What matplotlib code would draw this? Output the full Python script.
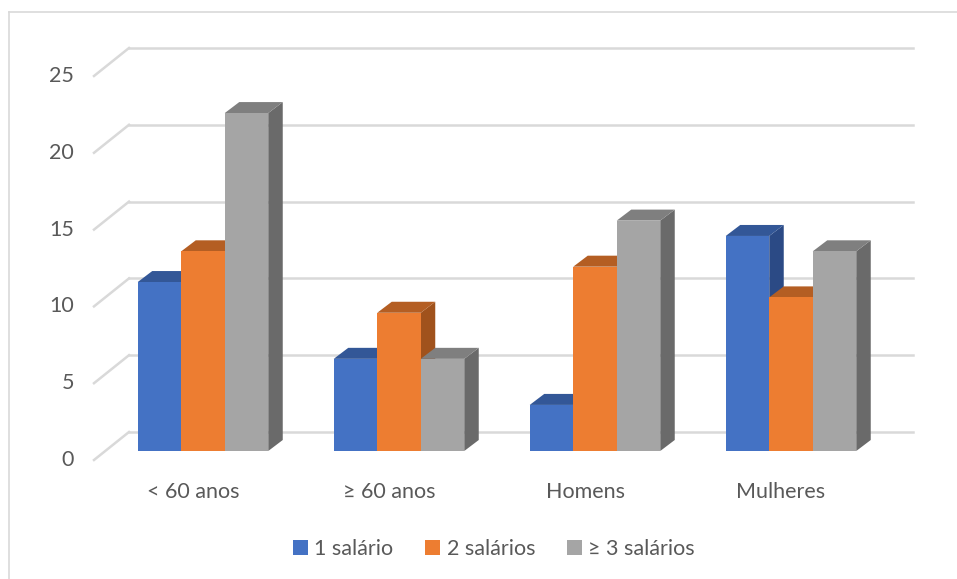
import matplotlib
matplotlib.use("Agg")
import matplotlib.pyplot as plt
from matplotlib.patches import Polygon, Patch
from matplotlib.lines import Line2D

# ── data ──────────────────────────────────────────────────────────────────────
categories = ["< 60 anos", "≥ 60 anos", "Homens", "Mulheres"]
series     = ["1 salário", "2 salários", "≥ 3 salários"]
um_salario     = [11, 6, 3, 14]
dois_salarios  = [13, 9, 12, 10]
tres_salarios  = [22, 6, 15, 13]
yticks = [0, 5, 10, 15, 20, 25]

# front / top / side colours for each series
front = ["#4472C4", "#ED7D31", "#A5A5A5"]
top   = ["#335797", "#B45E23", "#7F7F7F"]
side  = ["#2B4A85", "#A0521C", "#6A6A6A"]

plt.rcParams["font.family"] = ["Lato", "DejaVu Sans"]
TXT = "#595959"
GRID = "#D9D9D9"
FS = 15.5

# ── layout (pixel anchors -> data units) ─────────────────────────────────────
W, H = 957, 579
X0_PX, GROUP_PX = 203, 196      # centre of first group, spacing between groups
BASE_PX, UNIT_PX = 451, 15.36   # y pixel of value 0, pixels per unit

def px(dx, dy):
    return dx / GROUP_PX, dy / UNIT_PX

back_dx, back_dy = px(24, 19)       # back wall offset from bar front plane
bar_dx, bar_dy = px(14.5, 11)       # bar depth
floor_dx, floor_dy = px(-11, -9)    # front edge of floor
bar_w = 43.5 / GROUP_PX
wall_l, wall_r = -0.5, 3.5

fig = plt.figure(figsize=(W / 100, H / 100), dpi=100)
ax = fig.add_axes([0, 0, 1, 1])
ax.set_xlim(-X0_PX / GROUP_PX, (W - X0_PX) / GROUP_PX)
ax.set_ylim((BASE_PX - H) / UNIT_PX, BASE_PX / UNIT_PX)
ax.axis("off")

# outer chart border
fig.add_artist(Line2D([9 / W, 9 / W], [0, 1 - 12 / H], color=GRID, lw=1.2,
                      transform=fig.transFigure))
fig.add_artist(Line2D([9 / W, 1], [1 - 12 / H, 1 - 12 / H], color=GRID, lw=1.2,
                      transform=fig.transFigure))

# gridlines on back wall + diagonals on the left wall
for v in yticks:
    ax.plot([wall_l + back_dx, wall_r + back_dx], [v + back_dy, v + back_dy],
            color=GRID, lw=1.8, zorder=1)
    ax.plot([wall_l + floor_dx, wall_l + back_dx], [v + floor_dy, v + back_dy],
            color=GRID, lw=1.8, zorder=1)
    ax.text(wall_l + floor_dx - 20 / GROUP_PX, v + floor_dy, str(v),
            ha="right", va="center", fontsize=FS, color=TXT)

# bars: side, top, front for each bar, left to right
values = [um_salario, dois_salarios, tres_salarios]
for i, cat in enumerate(categories):
    for s in range(3):
        v = values[s][i]
        x0 = i - 1.5 * bar_w + s * bar_w
        x1 = x0 + bar_w
        ax.add_patch(Polygon([(x1, 0), (x1 + bar_dx, bar_dy),
                              (x1 + bar_dx, v + bar_dy), (x1, v)],
                             closed=True, facecolor=side[s], edgecolor="none", zorder=2))
        ax.add_patch(Polygon([(x0, v), (x0 + bar_dx, v + bar_dy),
                              (x1 + bar_dx, v + bar_dy), (x1, v)],
                             closed=True, facecolor=top[s], edgecolor="none", zorder=2))
        ax.bar(x0, v, width=bar_w, align="edge", color=front[s], zorder=2)
    ax.text(i - 10 / GROUP_PX, (BASE_PX - 492) / UNIT_PX, cat,
            ha="center", va="center", fontsize=FS, color=TXT)

handles = [Patch(facecolor=c) for c in front]
leg = fig.legend(handles, series, loc="center", bbox_to_anchor=(494 / W, 1 - 549 / H),
                 ncol=3, frameon=False, fontsize=FS, handlelength=0.68, handleheight=0.68,
                 handletextpad=0.3, columnspacing=1.5, borderpad=0, borderaxespad=0)
for t in leg.get_texts():
    t.set_color(TXT)

plt.savefig("out.png", dpi=100)
